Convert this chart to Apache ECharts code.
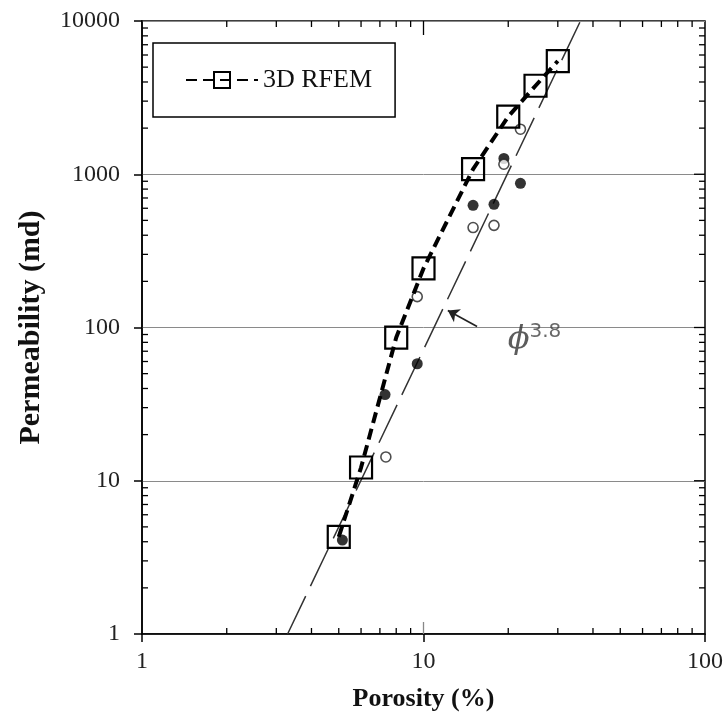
<!DOCTYPE html>
<html>
<head>
<meta charset="utf-8">
<script src="https://cdn.jsdelivr.net/npm/echarts@6/dist/echarts.min.js"></script>
<style>
html,body{margin:0;padding:0;background:#fff;}
#chart{width:726px;height:717px;}
</style>
</head>
<body>
<div id="chart"></div>
<script>
// ---- data ----
var rfemPorosity = [5, 6, 8, 10, 15, 20, 25, 30];
var rfemPerm     = [4.3, 12.2, 86, 243, 1080, 2380, 3780, 5480];

var filledPorosity = [5.15, 7.3, 9.5, 15.0, 17.8, 19.3, 22.1];
var filledPerm     = [4.1, 36.5, 58, 627, 637, 1267, 873];

var openPorosity = [7.35, 9.5, 15.0, 17.8, 19.3, 22.1];
var openPerm     = [14.3, 159, 449, 464, 1162, 1968];

// phi^3.8 trend line end points (read at the plot edges)
var trendPorosity = [3.29, 36.1];
var trendPerm     = [1, 10000];

// annotation arrow (tail -> head) and label anchor
var arrowPorosity = [15.5, 12.2];
var arrowPerm     = [101.6, 129];
var notePorosity  = [19.9];
var notePerm      = [84];

// axis ticks
var xMinor = [2,3,4,5,6,7,8,9,20,30,40,50,60,70,80,90];
var yMinor = [2,3,4,5,6,7,8,9,20,30,40,50,60,70,80,90,200,300,400,500,600,700,800,900,2000,3000,4000,5000,6000,7000,8000,9000];
var xMajorInner = [10];
var yMajorInner = [10, 100, 1000];
var xMin = 1, xMax = 100, yMin = 1, yMax = 10000;

function zip(a, b) { return a.map(function (v, i) { return [v, b[i]]; }); }

// tick mark kinds (direction / length / colour) used by the tick renderer
var tickKinds = [
  { dx: 0,  dy: -1, len: 6,  color: '#000' }, // 0 bottom minor (inside)
  { dx: 0,  dy: -1, len: 12, color: '#888' }, // 1 bottom major (inside)
  { dx: 0,  dy: 1,  len: 6,  color: '#000' }, // 2 top minor
  { dx: 0,  dy: 1,  len: 14, color: '#000' }, // 3 top major
  { dx: 1,  dy: 0,  len: 6,  color: '#000' }, // 4 left minor
  { dx: -1, dy: 0,  len: 6,  color: '#000' }, // 5 right minor
  { dx: -1, dy: 0,  len: 11, color: '#000' }  // 6 right major
];
var tickData = [];
xMinor.forEach(function (v) { tickData.push([v, yMin, 0]); tickData.push([v, yMax, 2]); });
xMajorInner.forEach(function (v) { tickData.push([v, yMin, 1]); tickData.push([v, yMax, 3]); });
yMinor.forEach(function (v) { tickData.push([xMin, v, 4]); tickData.push([xMax, v, 5]); });
yMajorInner.forEach(function (v) { tickData.push([xMax, v, 6]); });

var serif = '"Liberation Serif", "Times New Roman", serif';

var chart = echarts.init(document.getElementById('chart'), null, { renderer: 'canvas' });

var option = {
  animation: false,
  backgroundColor: '#fff',
  grid: { left: 142, top: 21, right: 19, bottom: 83,
    show: true, borderColor: '#000', borderWidth: 1.5, backgroundColor: 'transparent' },
  legend: {
    data: ['3D RFEM'],
    left: 153, top: 43,
    orient: 'vertical',
    padding: [24, 23, 24, 32],
    borderColor: '#000', borderWidth: 1.5,
    itemWidth: 72, itemHeight: 20, itemGap: 0,
    textStyle: { fontFamily: serif, fontSize: 26, color: '#111' }
  },
  xAxis: {
    type: 'log', logBase: 10, min: xMin, max: xMax, splitNumber: 2, position: 'bottom',
    name: 'Porosity (%)', nameLocation: 'middle', nameGap: 52,
    nameTextStyle: { fontFamily: serif, fontSize: 26, fontWeight: 'bold', color: '#111' },
    axisLine: { show: true, onZero: false, lineStyle: { color: '#000', width: 1.5 } },
    axisTick: { show: true, inside: false, length: 8, lineStyle: { color: '#000', width: 1.5 } },
    axisLabel: { show: true, margin: 16, fontFamily: serif, fontSize: 24, color: '#222',
      formatter: function (v) { return String(Math.round(v)); } },
    splitLine: { show: false },
    minorTick: { show: false }
  },
  yAxis: {
    type: 'log', logBase: 10, min: yMin, max: yMax, splitNumber: 4, position: 'left',
    name: 'Permeability (md)', nameLocation: 'middle', nameGap: 96,
    nameTextStyle: { fontFamily: serif, fontSize: 30, fontWeight: 'bold', color: '#111' },
    axisLine: { show: true, onZero: false, lineStyle: { color: '#000', width: 1.5 } },
    axisTick: { show: true, inside: false, length: 8, lineStyle: { color: '#000', width: 1.5 } },
    axisLabel: { show: true, margin: 22, fontFamily: serif, fontSize: 24, color: '#222',
      formatter: function (v) { return String(Math.round(v)); } },
    splitLine: { show: true, lineStyle: { color: '#8a8a8a', width: 1 } },
    minorTick: { show: false }
  },
  series: [
    {
      name: 'ticks', type: 'custom', silent: true, clip: false, z: 1,
      data: tickData,
      encode: { x: 0, y: 1 },
      renderItem: function (params, api) {
        var p = api.coord([api.value(0), api.value(1)]);
        var k = tickKinds[api.value(2)];
        return {
          type: 'line',
          shape: { x1: p[0], y1: p[1], x2: p[0] + k.dx * k.len, y2: p[1] + k.dy * k.len },
          style: { stroke: k.color, lineWidth: 1.3 }
        };
      }
    },
    {
      name: 'phi38', type: 'line',
      data: zip(trendPorosity, trendPerm),
      symbol: 'none', silent: true, z: 2,
      lineStyle: { color: '#333', width: 1.5, type: [42, 11] },
      markLine: {
        silent: true, symbol: ['none', 'arrow'], symbolSize: 11,
        label: { show: false },
        lineStyle: { color: '#222', width: 1.6, type: 'solid' },
        data: [[{ coord: [arrowPorosity[0], arrowPerm[0]] }, { coord: [arrowPorosity[1], arrowPerm[1]] }]]
      }
    },
    {
      name: '3D RFEM', type: 'line',
      data: zip(rfemPorosity, rfemPerm),
      symbol: 'rect', symbolSize: 22, z: 4,
      lineStyle: { color: '#000', width: 4, type: [11, 6] },
      itemStyle: { color: 'rgba(0,0,0,0)', borderColor: '#000', borderWidth: 2.2 }
    },
    {
      name: 'filled', type: 'scatter',
      data: zip(filledPorosity, filledPerm),
      symbol: 'circle', symbolSize: 11, z: 3,
      itemStyle: { color: '#000' }
    },
    {
      name: 'open', type: 'scatter',
      data: zip(openPorosity, openPerm),
      symbol: 'circle', symbolSize: 10, z: 3,
      itemStyle: { color: '#fff', borderColor: '#222', borderWidth: 1.6 }
    },
    {
      name: 'note', type: 'scatter',
      data: zip(notePorosity, notePerm),
      symbolSize: 0, silent: true, z: 5,
      label: {
        show: true, position: 'right', distance: 0,
        formatter: '{phi|ϕ}{sup|3.8}',
        rich: {
          phi: { fontFamily: '"DejaVu Serif", serif', fontStyle: 'italic', fontSize: 32, color: '#333', verticalAlign: 'bottom', lineHeight: 34 },
          sup: { fontFamily: '"DejaVu Sans", sans-serif', fontSize: 20, color: '#444', verticalAlign: 'top', lineHeight: 34, padding: [0, 0, 14, 0] }
        }
      }
    }
  ]
};
chart.setOption(option);
</script>
</body>
</html>
